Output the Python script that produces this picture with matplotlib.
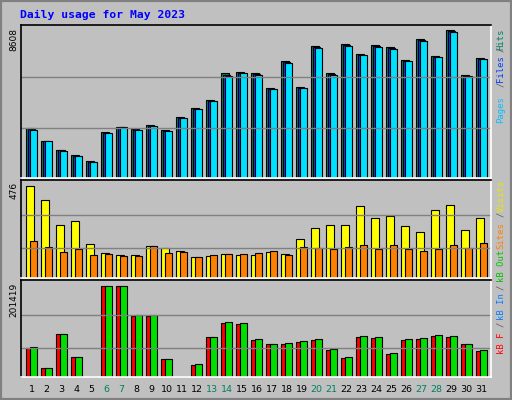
import matplotlib
matplotlib.use("Agg")
import matplotlib.pyplot as plt
from matplotlib.patches import Rectangle

days = list(range(1, 32))
weekend = [6, 7, 13, 14, 20, 21, 27, 28]
hits = [2882,2123,1597,1305,954,2649,2941,2824,3058,2765,3525,4051,4518,6096,6154,6096,5219,6797,5278,7673,6096,7790,7206,7731,7615,6855,8082,7089,8608,5979,6972]
files = [2830,2110,1580,1280,930,2620,2930,2790,3030,2740,3490,4020,4490,6000,6130,6040,5190,6740,5250,7610,6040,7740,7170,7680,7560,6820,8020,7050,8560,5950,6930]
pages = [2765,2123,1560,1250,900,2590,2920,2765,3000,2700,3460,3990,4460,5920,6100,5980,5160,6680,5220,7550,5980,7700,7150,7610,7500,6800,7960,7010,8500,5920,6900]
visits = [476,404,274,295,176,129,119,119,166,155,140,109,114,124,119,119,135,124,202,259,274,274,373,310,321,269,238,352,378,248,310]
sites = [191,160,135,150,119,124,114,114,166,129,135,109,119,124,124,129,140,119,160,155,150,160,171,150,171,150,140,150,171,155,181]
kb_out = [66400,19900,95200,44300,1000,201419,201419,137200,137200,39800,1000,28800,88500,121700,119500,84100,73000,75300,79700,84100,62000,44300,90800,88500,53100,84100,86300,93000,90800,73000,59800]
kb_f = [64200,19900,95200,44300,1000,201419,201419,135000,135000,39800,1000,26600,88500,119500,117300,81900,73000,73000,77500,81900,59800,42100,88500,86300,50900,81900,84100,90800,88500,73000,57500]

BG = "#c0c0c0"
fig = plt.figure(figsize=(5.12, 4.0), dpi=100, facecolor=BG)
W, H = 512, 400

def add_panel(y0, y1):
    ax = fig.add_axes([20.5/W, 1 - y1/H, 470/W, (y1 - y0)/H])
    ax.set_facecolor(BG)
    ax.set_xlim(0, 470)
    ax.set_xticks([]); ax.set_yticks([])
    for s in ["top", "left"]:
        ax.spines[s].set_color("black")
    for s in ["bottom", "right"]:
        ax.spines[s].set_color("white")
    for s in ax.spines.values():
        s.set_linewidth(1.2)
    return ax

xs = [5 + 15*(d-1) for d in days]

ax1 = add_panel(24.7, 177.5)
ax1.set_ylim(0, 8608/147.4*152.8)
for v in (8608*0.335, 8608*0.68):
    ax1.axhline(v, color="#808080", lw=1)
ax1.bar(xs, hits, width=8.5, align="edge", color="#008060", edgecolor="black", lw=0.8)
ax1.bar([x+2 for x in xs], files, width=7.5, align="edge", color="#0040ff", edgecolor="black", lw=0.8)
ax1.bar([x+4 for x in xs], pages, width=7.3, align="edge", color="#00e0ff", edgecolor="black", lw=0.8)

ax2 = add_panel(180.3, 278)
ax2.set_ylim(0, 476/92*97.7)
for v in (476*0.33, 476*0.69):
    ax2.axhline(v, color="#808080", lw=1)
ax2.bar(xs, visits, width=8, align="edge", color="#ffff00", edgecolor="black", lw=0.8)
ax2.bar([x+4 for x in xs], sites, width=7.3, align="edge", color="#ff8000", edgecolor="black", lw=0.8)

ax3 = add_panel(280, 377)
ax3.set_ylim(0, 201419/91*97)
for v in (201419*0.32, 201419*0.68):
    ax3.axhline(v, color="#808080", lw=1)
ax3.bar(xs, kb_f, width=8, align="edge", color="#ff0000", edgecolor="black", lw=0.8)
ax3.bar([x+4 for x in xs], kb_out, width=7.3, align="edge", color="#00e000", edgecolor="black", lw=0.8)

mono = "DejaVu Sans Mono"
fig.text(20/W, 1 - 15/H, "Daily usage for May 2023", color="#0000ff", fontsize=8.2, fontweight="bold",
         family=mono, va="center", ha="left")
for txt, y in (("8608", 28), ("476", 182), ("201419", 283)):
    fig.text(14/W, 1 - y/H, txt, rotation=90, fontsize=6.5, family="DejaVu Sans", va="top", ha="center", color="black")

# right labels: (text, colour, top y in px)
right_parts = [
    ("Hits", "#008060", 29), ("/", "#606060", 47), ("Files", "#0040ff", 55), ("/", "#606060", 82), ("Pages", "#00c0ff", 96),
    ("Visits", "#e8e800", 180), ("/", "#606060", 212), ("Sites", "#ff8000", 222),
    ("kB Out", "#00c000", 250), ("/", "#606060", 285), ("kB In", "#0080ff", 293), ("/", "#606060", 322), ("kB F", "#ff0000", 333),
]
for txt, col, y in right_parts:
    fig.text(501/W, 1 - y/H, txt, rotation=90, fontsize=6.4, family=mono, color=col, va="top", ha="center")

for d, x in zip(days, xs):
    col = "#008060" if d in weekend else "black"
    fig.text((20.5 + x + 6)/W, 1 - 389/H, str(d), fontsize=6.8, family="DejaVu Sans", color=col,
             ha="center", va="center")

fig.patches.append(Rectangle((0, 0), 1, 1, transform=fig.transFigure, fill=False, edgecolor="#808080", lw=3))
fig.savefig("out.png", dpi=100, facecolor=BG)
